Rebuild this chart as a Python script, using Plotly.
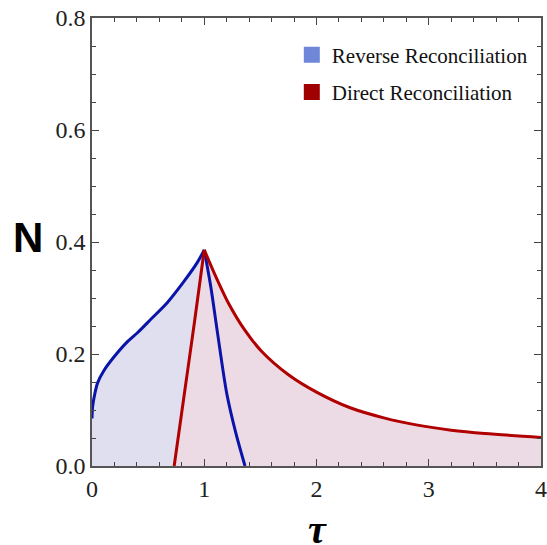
import plotly.graph_objects as go

# Reverse reconciliation boundary (blue)
rr_tau = [0.0, 0.005, 0.02, 0.049, 0.108, 0.197, 0.316, 0.405, 0.524, 0.672, 0.821, 0.94, 1.0,
          1.06, 1.12, 1.2, 1.28, 1.363]
rr_N = [0.085, 0.105, 0.124, 0.148, 0.171, 0.195, 0.222, 0.238, 0.262, 0.292, 0.330, 0.364, 0.386,
        0.318, 0.235, 0.13, 0.06, 0.0]

# Direct reconciliation boundary (red)
dr_tau = [0.732, 0.82, 0.913, 1.0, 1.09, 1.21, 1.36, 1.51, 1.75, 2.0, 2.3, 2.6,
          2.9, 3.2, 3.5, 4.0]
dr_N = [0.0, 0.125, 0.257, 0.386, 0.344, 0.293, 0.243, 0.205, 0.163, 0.132, 0.104, 0.086,
        0.073, 0.064, 0.058, 0.051]

x_ticks = [0, 1, 2, 3, 4]
y_ticks = [0.0, 0.2, 0.4, 0.6, 0.8]
y_ticklabels = ["0.0", "0.2", "0.4", "0.6", "0.8"]

# split each boundary at its peak so the cusp stays sharp
rr_pk = rr_N.index(max(rr_N))
dr_pk = dr_N.index(max(dr_N))
rr_parts = [(rr_tau[:rr_pk + 1], rr_N[:rr_pk + 1]), (rr_tau[rr_pk:], rr_N[rr_pk:])]
dr_parts = [(dr_tau[:dr_pk + 1], dr_N[:dr_pk + 1]), (dr_tau[dr_pk:], dr_N[dr_pk:])]

fig = go.Figure()

# fills
for xs, ys in rr_parts:
    fig.add_trace(go.Scatter(x=xs, y=ys, mode="lines", line=dict(width=0, shape="spline", smoothing=0.8),
                             fill="tozeroy", fillcolor="#dfdff0", showlegend=False, hoverinfo="skip"))
for xs, ys in dr_parts:
    fig.add_trace(go.Scatter(x=xs, y=ys, mode="lines", line=dict(width=0, shape="spline", smoothing=0.8),
                             fill="tozeroy", fillcolor="#ecdbe5", showlegend=False, hoverinfo="skip"))
# lines
for xs, ys in rr_parts:
    fig.add_trace(go.Scatter(x=xs, y=ys, mode="lines",
                             line=dict(color="#0a14a8", width=3, shape="spline", smoothing=0.8),
                             showlegend=False))
for xs, ys in dr_parts:
    fig.add_trace(go.Scatter(x=xs, y=ys, mode="lines",
                             line=dict(color="#b00000", width=3, shape="spline", smoothing=0.8),
                             showlegend=False))

# legend entries
fig.add_trace(go.Scatter(x=[None], y=[None], mode="markers", name="Reverse Reconciliation",
                         marker=dict(symbol="square", size=18, color="#6f87d9"), legendgroup="a"))
fig.add_trace(go.Scatter(x=[None], y=[None], mode="markers", name="Direct Reconciliation",
                         marker=dict(symbol="square", size=18, color="#a00000"), legendgroup="b"))

axis_common = dict(showline=True, linecolor="#555555", linewidth=1.5, mirror="allticks",
                   ticks="inside", ticklen=7, tickwidth=1.2, tickcolor="#444444",
                   showgrid=False, zeroline=False, ticklabeloverflow="allow", automargin=False,
                   tickfont=dict(family="Liberation Serif", size=24, color="#222222"))

fig.update_xaxes(range=[0, 4], tickvals=x_ticks, ticktext=[str(v) for v in x_ticks],
                 minor=dict(dtick=0.2, ticks="inside", ticklen=4, tickcolor="#444444", showgrid=False),
                 **axis_common)
fig.update_yaxes(range=[0, 0.8], tickvals=y_ticks, ticktext=y_ticklabels,
                 minor=dict(dtick=0.05, ticks="inside", ticklen=4, tickcolor="#444444", showgrid=False),
                 **axis_common)

fig.add_annotation(text="<b>N</b>", xref="paper", yref="paper", x=-0.1425, y=0.511,
                   xanchor="center", yanchor="middle",
                   showarrow=False, font=dict(family="Liberation Sans", size=42, color="black"))
fig.add_annotation(text="<b><i>τ</i></b>", xref="paper", yref="paper", x=0.503, y=-0.14,
                   xanchor="center", yanchor="middle", height=32, valign="middle",
                   showarrow=False, font=dict(family="Liberation Serif", size=40, color="black"))

fig.update_layout(
    width=547, height=545,
    margin=dict(l=92, r=6, t=18, b=79, autoexpand=False),
    paper_bgcolor="white", plot_bgcolor="white",
    legend=dict(x=0.445, y=0.963, xanchor="left", yanchor="top", bgcolor="rgba(0,0,0,0)",
                font=dict(family="Liberation Serif", size=21, color="#111111"),
                tracegroupgap=7),
)

fig.write_html("out.html", config={"displayModeBar": False},
               post_script="document.body.style.margin='0';document.body.style.overflow='hidden';")
